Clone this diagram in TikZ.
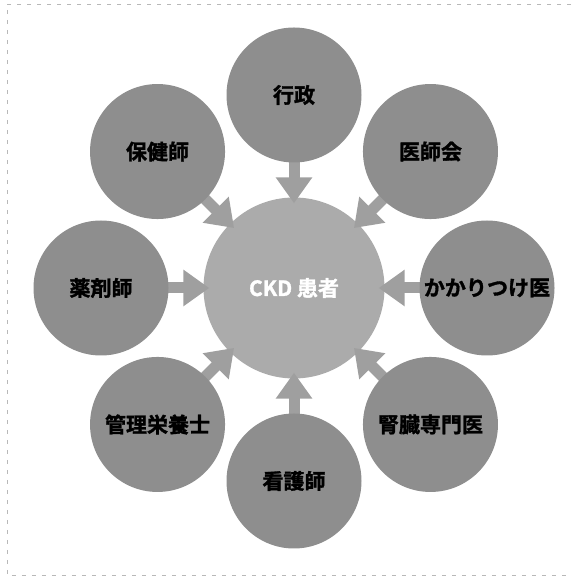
\documentclass[tikz,border=0pt]{standalone}
\usepackage{fontspec}
\newfontfamily\jp{Noto Sans CJK JP}[BoldFont={Noto Sans CJK JP Bold},BoldFeatures={FakeBold=1.5}]
\usetikzlibrary{arrows.meta,calc}
\pgfdeclarelayer{hublayer}
\pgfdeclarelayer{flowlayer}
\pgfsetlayers{hublayer,flowlayer,main}
\definecolor{outerfill}{HTML}{8E8E8E}
\definecolor{centerfill}{HTML}{ABABAB}
\definecolor{arrowfill}{HTML}{9F9F9F}
\definecolor{framecol}{HTML}{B8B8B8}
\tikzset{
  hub/.style={circle, fill=centerfill, minimum size=181pt, inner sep=0pt,
    font=\jp\bfseries\fontsize{21}{25}\selectfont, text=white},
  member/.style={circle, fill=outerfill, minimum size=135pt, inner sep=0pt,
    font=\jp\bfseries\fontsize{21}{25}\selectfont, text=black},
  flow/.style={draw=arrowfill, line width=11pt, shorten <=-10pt, shorten >=-6pt,
    -{Triangle[width=35pt,length=26pt,fill=arrowfill]}},
  frame/.style={draw=framecol, line width=0.8pt, dash pattern=on 4pt off 6pt}
}
\begin{document}
\begin{tikzpicture}[x=1pt,y=1pt]
\useasboundingbox (0,0) rectangle (578,578);
\draw[frame] (571,574) -- (7,574) -- (7,3) -- (571,3);
\begin{pgfonlayer}{hublayer}
\node[hub] (c) at (294,290) {CKD 患者};
\end{pgfonlayer}
\node[member] (g) at ($(c)+(90:193)$) {行政};
\node[member] (i) at ($(c)+(45:193)$) {医師会};
\node[member] (k) at ($(c)+(0:193)$) {かかりつけ医};
\node[member] (j) at ($(c)+(-45:193)$) {腎臓専門医};
\node[member] (n) at ($(c)+(-90:193)$) {看護師};
\node[member] (e) at ($(c)+(-135:193)$) {管理栄養士};
\node[member] (y) at ($(c)+(180:193)$) {薬剤師};
\node[member] (h) at ($(c)+(135:193)$) {保健師};
\begin{pgfonlayer}{flowlayer}
\foreach \n in {g,i,k,j,n,e,y,h}{
  \draw[flow] (\n) -- (c);
}
\end{pgfonlayer}
\end{tikzpicture}
\end{document}
